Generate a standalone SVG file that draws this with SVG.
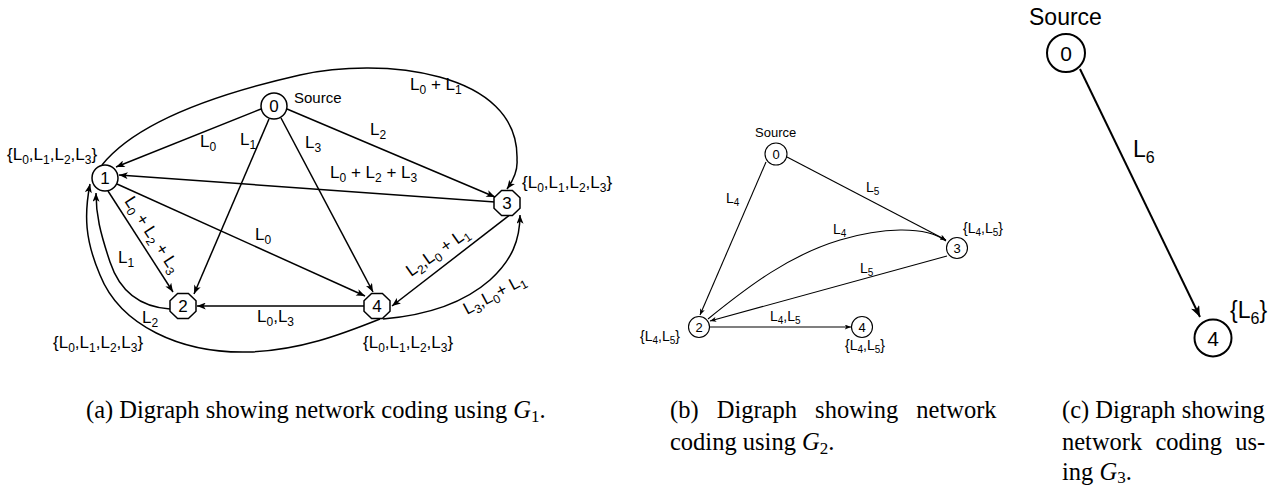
<svg xmlns="http://www.w3.org/2000/svg" width="1278" height="487" viewBox="0 0 1278 487">
<style>
.bg{fill:#fff}
.e{fill:none;stroke:#000;stroke-width:1.5}
.eb{fill:none;stroke:#000;stroke-width:1.1}
.ec{fill:none;stroke:#000;stroke-width:2}
.n{fill:#fff;stroke:#000;stroke-width:1.5}
.nb{fill:#fff;stroke:#000;stroke-width:1.1}
.nc{fill:#fff;stroke:#000;stroke-width:2}
.t{font-family:"Liberation Sans",Arial,sans-serif;font-size:17px;fill:#000}
.t .s{font-size:12px}
.tb{font-family:"Liberation Sans",Arial,sans-serif;font-size:14px;fill:#000}
.tb .s{font-size:10px}
.tc{font-family:"Liberation Sans",Arial,sans-serif;font-size:23px;fill:#000}
.tc .s{font-size:16px}
.num{text-anchor:middle}
.cap{font-family:"Liberation Serif","Times New Roman",serif;font-size:24.5px;fill:#000}
.cap .s{font-size:17px}
</style>
<defs>
<marker id="arA" viewBox="0 0 10 8" refX="10" refY="4" markerWidth="10" markerHeight="7" markerUnits="userSpaceOnUse" orient="auto"><path d="M0,0 L10,4 L0,8 L2.5,4 z" fill="#000"/></marker>
<marker id="arB" viewBox="0 0 10 8" refX="10" refY="4" markerWidth="7" markerHeight="5" markerUnits="userSpaceOnUse" orient="auto"><path d="M0,0 L10,4 L0,8 L2.5,4 z" fill="#000"/></marker>
<marker id="arC" viewBox="0 0 10 8" refX="10" refY="4" markerWidth="12" markerHeight="9" markerUnits="userSpaceOnUse" orient="auto"><path d="M0,0 L10,4 L0,8 L2.5,4 z" fill="#000"/></marker>
<polygon id="oct" points="-5.4,-12.5 5.4,-12.5 13,-5.2 13,5.2 5.4,12.5 -5.4,12.5 -13,5.2 -13,-5.2"/>
</defs>
<rect class="bg" x="0" y="0" width="1278" height="487"/>

<!-- Panel (a) connectors -->
<g id="edges-a">
<path class="e" marker-end="url(#arA)" d="M261,109 L116,167"/>
<path class="e" marker-end="url(#arA)" d="M269,119 L194,294"/>
<path class="e" marker-end="url(#arA)" d="M281,118 L373,292"/>
<path class="e" marker-end="url(#arA)" d="M287,109 L495,197"/>
<path class="e" marker-end="url(#arA)" d="M495,202 L119,175"/>
<path class="e" marker-end="url(#arA)" d="M108,191 L173,292"/>
<path class="e" marker-end="url(#arA)" d="M117,184 L365,296"/>
<path class="e" marker-end="url(#arA)" d="M364,306 L197,306"/>
<path class="e" marker-end="url(#arA)" d="M511,214 L392,306"/>
<path class="e" marker-end="url(#arA)" d="M102,165 C130,130 190,100 300,75 C380,57 520,70 517,160 C518,172 512,182 507,189"/>
<path class="e" marker-end="url(#arA)" d="M170,309 C140,307 120,292 110,262 C100,232 96,215 96,193"/>
<path class="e" marker-end="url(#arA)" d="M380,319 C340,335 300,350 250,352 C180,354 120,325 100,275 C85,240 84,215 90,184"/>
<path class="e" marker-end="url(#arA)" d="M383,319 C430,315 465,302 490,280 C512,260 520,240 520,215"/>
</g>

<!-- Panel (a) nodes -->
<g id="a-node0"><circle class="n" cx="274" cy="106" r="13"/><text class="t num" x="274" y="112">0</text></g>
<g id="a-node1"><circle class="n" cx="105" cy="178" r="13"/><text class="t num" x="105" y="184">1</text></g>
<g id="a-node2"><use href="#oct" class="n" x="183" y="306"/><text class="t num" x="183" y="312">2</text></g>
<g id="a-node3"><use href="#oct" class="n" x="507" y="203"/><text class="t num" x="507" y="209">3</text></g>
<g id="a-node4"><use href="#oct" class="n" x="377" y="306"/><text class="t num" x="377" y="312">4</text></g>

<!-- Panel (a) labels -->
<g id="labels-a">
<text class="t" x="294" y="103" style="font-size:15px">Source</text>
<text class="t" x="7" y="160">{L<tspan class="s" dy="4">0</tspan><tspan dy="-4">,L</tspan><tspan class="s" dy="4">1</tspan><tspan dy="-4">,L</tspan><tspan class="s" dy="4">2</tspan><tspan dy="-4">,L</tspan><tspan class="s" dy="4">3</tspan><tspan dy="-4">}</tspan></text>
<text class="t" x="410" y="90">L<tspan class="s" dy="4">0</tspan><tspan dy="-4"> + L</tspan><tspan class="s" dy="4">1</tspan></text>
<text class="t" x="370" y="135">L<tspan class="s" dy="4">2</tspan></text>
<text class="t" x="200" y="147">L<tspan class="s" dy="4">0</tspan></text>
<text class="t" x="240" y="145">L<tspan class="s" dy="4">1</tspan></text>
<text class="t" x="305" y="148">L<tspan class="s" dy="4">3</tspan></text>
<text class="t" x="330" y="178">L<tspan class="s" dy="4">0</tspan><tspan dy="-4"> + L</tspan><tspan class="s" dy="4">2</tspan><tspan dy="-4"> + L</tspan><tspan class="s" dy="4">3</tspan></text>
<text class="t" x="255" y="240">L<tspan class="s" dy="4">0</tspan></text>
<text class="t" transform="translate(124,201) rotate(57)">L<tspan class="s" dy="4">0</tspan><tspan dy="-4"> + L</tspan><tspan class="s" dy="4">2</tspan><tspan dy="-4"> + L</tspan><tspan class="s" dy="4">3</tspan></text>
<text class="t" x="118" y="263">L<tspan class="s" dy="4">1</tspan></text>
<text class="t" x="142" y="323">L<tspan class="s" dy="4">2</tspan></text>
<text class="t" x="53" y="348">{L<tspan class="s" dy="4">0</tspan><tspan dy="-4">,L</tspan><tspan class="s" dy="4">1</tspan><tspan dy="-4">,L</tspan><tspan class="s" dy="4">2</tspan><tspan dy="-4">,L</tspan><tspan class="s" dy="4">3</tspan><tspan dy="-4">}</tspan></text>
<text class="t" x="257" y="322">L<tspan class="s" dy="4">0</tspan><tspan dy="-4">,L</tspan><tspan class="s" dy="4">3</tspan></text>
<text class="t" x="363" y="348">{L<tspan class="s" dy="4">0</tspan><tspan dy="-4">,L</tspan><tspan class="s" dy="4">1</tspan><tspan dy="-4">,L</tspan><tspan class="s" dy="4">2</tspan><tspan dy="-4">,L</tspan><tspan class="s" dy="4">3</tspan><tspan dy="-4">}</tspan></text>
<text class="t" transform="translate(411,277) rotate(-35)">L<tspan class="s" dy="4">2</tspan><tspan dy="-4">,L</tspan><tspan class="s" dy="4">0</tspan><tspan dy="-4"> + L</tspan><tspan class="s" dy="4">1</tspan></text>
<text class="t" transform="translate(467,315) rotate(-28)">L<tspan class="s" dy="4">3</tspan><tspan dy="-4">,L</tspan><tspan class="s" dy="4">0</tspan><tspan dy="-4">+ L</tspan><tspan class="s" dy="4">1</tspan></text>
<text class="t" x="522" y="188">{L<tspan class="s" dy="4">0</tspan><tspan dy="-4">,L</tspan><tspan class="s" dy="4">1</tspan><tspan dy="-4">,L</tspan><tspan class="s" dy="4">2</tspan><tspan dy="-4">,L</tspan><tspan class="s" dy="4">3</tspan><tspan dy="-4">}</tspan></text>
</g>

<!-- Panel (b) connectors -->
<g id="edges-b">
<path class="eb" marker-end="url(#arB)" d="M766,162 L700,315"/>
<path class="eb" marker-end="url(#arB)" d="M787,157 L946,240"/>
<path class="eb" marker-end="url(#arB)" d="M708,319 C750,285 790,255 840,240 C880,228 925,225 946,241"/>
<path class="eb" marker-end="url(#arB)" d="M947,256 L710,321"/>
<path class="eb" marker-end="url(#arB)" d="M710,327 L851,327"/>
</g>

<!-- Panel (b) nodes -->
<g id="b-node0"><circle class="nb" cx="776" cy="154" r="11"/><text class="tb num" x="776" y="159" style="font-size:13px">0</text></g>
<g id="b-node2"><circle class="nb" cx="699" cy="327" r="10.5"/><text class="tb num" x="699" y="332" style="font-size:13px">2</text></g>
<g id="b-node3"><circle class="nb" cx="957" cy="248" r="10.5"/><text class="tb num" x="957" y="253" style="font-size:13px">3</text></g>
<g id="b-node4"><circle class="nb" cx="862" cy="327" r="10.5"/><text class="tb num" x="862" y="332" style="font-size:13px">4</text></g>

<!-- Panel (b) labels -->
<g id="labels-b">
<text class="tb" x="755" y="137" style="font-size:13px">Source</text>
<text class="tb" x="726" y="203">L<tspan class="s" dy="3">4</tspan></text>
<text class="tb" x="866" y="192">L<tspan class="s" dy="3">5</tspan></text>
<text class="tb" x="833" y="234">L<tspan class="s" dy="3">4</tspan></text>
<text class="tb" x="860" y="273">L<tspan class="s" dy="3">5</tspan></text>
<text class="tb" x="770" y="321">L<tspan class="s" dy="3">4</tspan><tspan dy="-3">,L</tspan><tspan class="s" dy="3">5</tspan></text>
<text class="tb" x="640" y="341">{L<tspan class="s" dy="3">4</tspan><tspan dy="-3">,L</tspan><tspan class="s" dy="3">5</tspan><tspan dy="-3">}</tspan></text>
<text class="tb" x="845" y="350">{L<tspan class="s" dy="3">4</tspan><tspan dy="-3">,L</tspan><tspan class="s" dy="3">5</tspan><tspan dy="-3">}</tspan></text>
<text class="tb" x="963" y="233">{L<tspan class="s" dy="3">4</tspan><tspan dy="-3">,L</tspan><tspan class="s" dy="3">5</tspan><tspan dy="-3">}</tspan></text>
</g>

<!-- Panel (c) connectors -->
<g id="edges-c">
<path class="ec" marker-end="url(#arC)" d="M1080,69 L1200,317"/>
</g>

<!-- Panel (c) nodes -->
<g id="c-node0"><circle class="nc" cx="1066" cy="53" r="19"/><text class="tc num" x="1066" y="61" style="font-size:21px">0</text></g>
<g id="c-node4"><circle class="nc" cx="1213" cy="338" r="18.5"/><text class="tc num" x="1213" y="346" style="font-size:21px">4</text></g>

<!-- Panel (c) labels -->
<g id="labels-c">
<text class="tc" x="1029" y="25">Source</text>
<text class="tc" x="1133" y="157">L<tspan class="s" dy="6">6</tspan></text>
<text class="tc" x="1230" y="318">{L<tspan class="s" dy="6">6</tspan><tspan dy="-6">}</tspan></text>
</g>

<!-- Captions -->
<g id="captions">
<text class="cap" x="86" y="418">(a) Digraph showing network coding using <tspan font-style="italic">G</tspan><tspan class="s" dy="4">1</tspan><tspan dy="-4">.</tspan></text>
<text class="cap" x="670" y="418" word-spacing="12">(b) Digraph showing network</text>
<text class="cap" x="670" y="450">coding using <tspan font-style="italic">G</tspan><tspan class="s" dy="4">2</tspan><tspan dy="-4">.</tspan></text>
<text class="cap" x="1062" y="418">(c) Digraph showing</text>
<text class="cap" x="1062" y="450" word-spacing="7">network coding us-</text>
<text class="cap" x="1062" y="480">ing <tspan font-style="italic">G</tspan><tspan class="s" dy="3">3</tspan><tspan dy="-3">.</tspan></text>
</g>
</svg>
